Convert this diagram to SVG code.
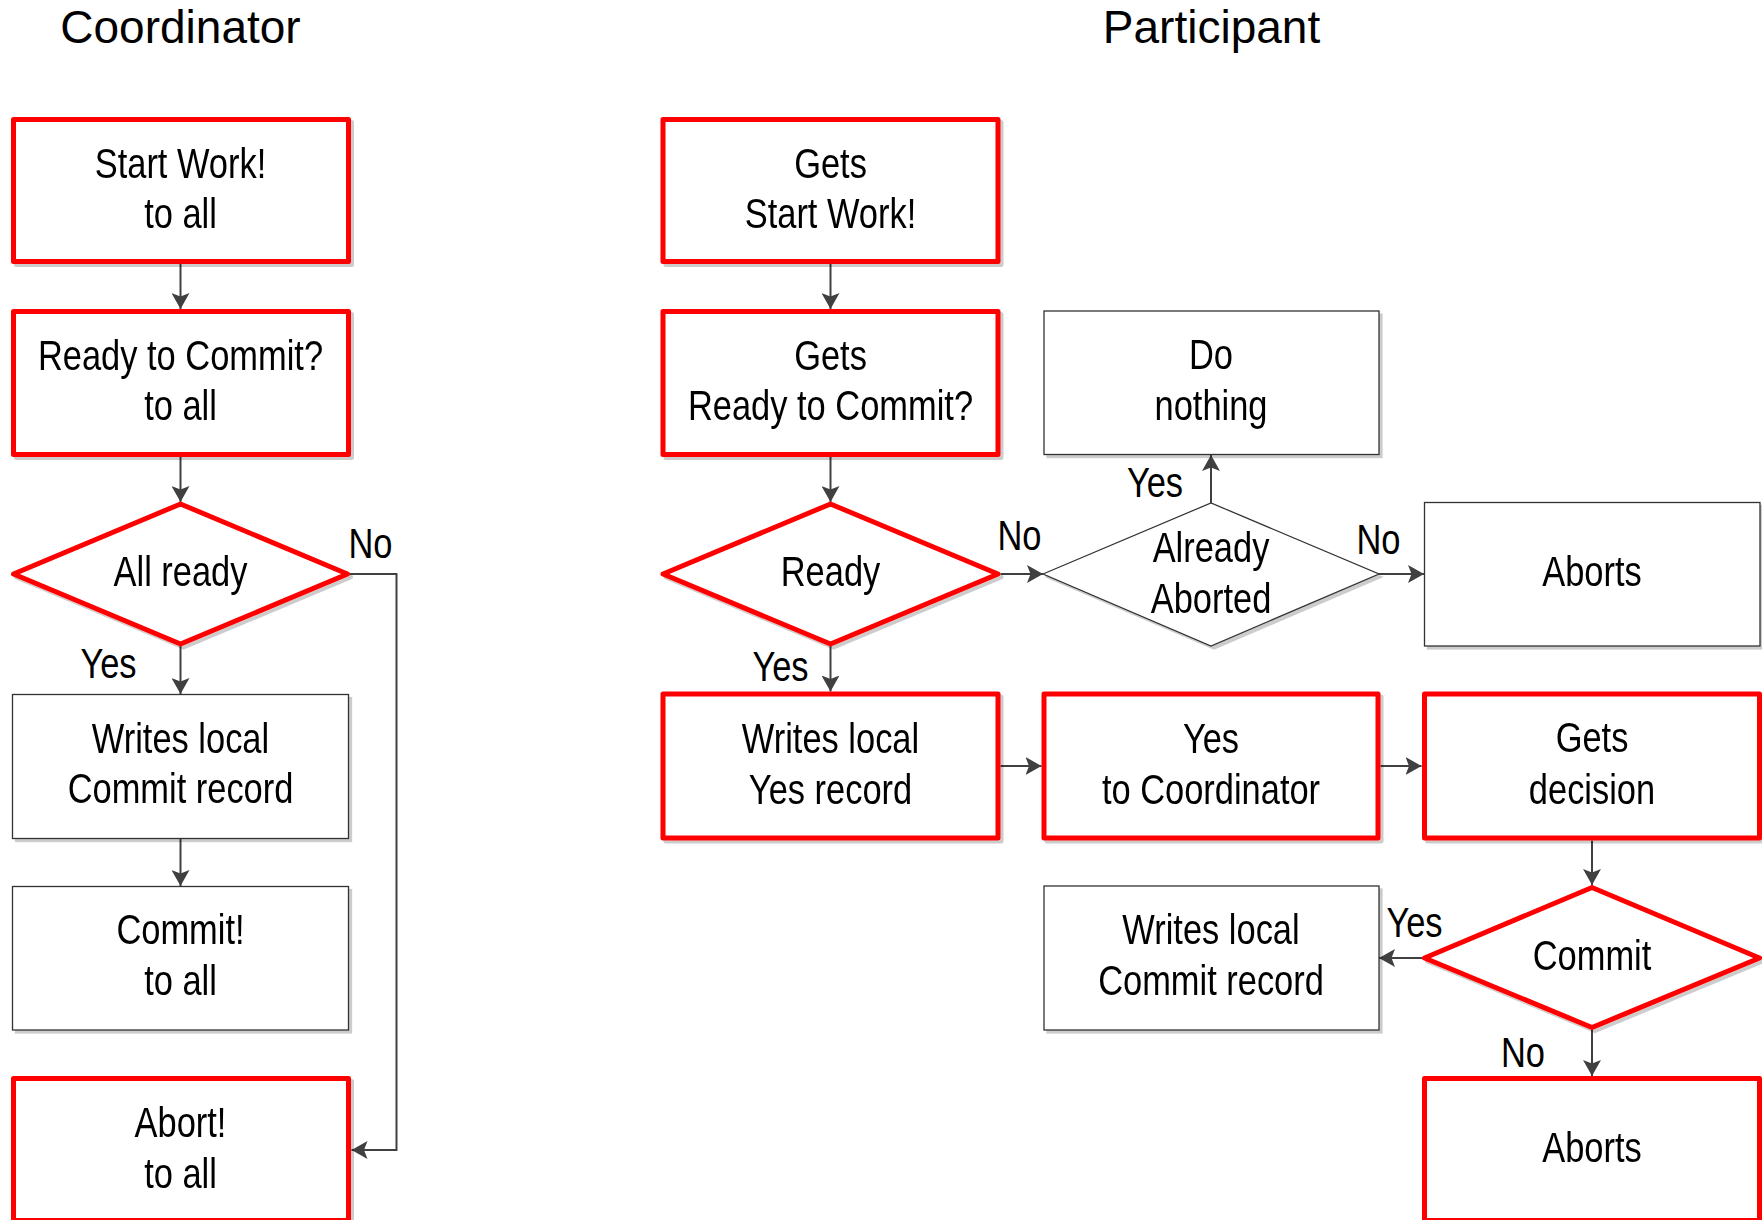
<svg xmlns="http://www.w3.org/2000/svg" width="1762" height="1220" viewBox="0 0 1762 1220">
<style>
  .bg { fill: #ffffff; }
  .red { fill: #ffffff; stroke: #ff0000; stroke-width: 5; stroke-linejoin: round; }
  .thin { fill: #ffffff; stroke: #333333; stroke-width: 1.3; }
  .t { font-family: "Liberation Sans", Arial, sans-serif; font-size: 42px; fill: #000000; text-anchor: middle; }
  .lbl { font-family: "Liberation Sans", Arial, sans-serif; font-size: 42px; fill: #000000; text-anchor: middle; }
  .title { font-family: "Liberation Sans", Arial, sans-serif; font-size: 46px; fill: #000000; text-anchor: middle; }
  .c { fill: none; stroke: #404040; stroke-width: 2; }
</style>
<defs>
  <filter id="sh" x="-5%" y="-5%" width="115%" height="115%">
    <feDropShadow dx="3" dy="3" stdDeviation="0.6" flood-color="#000000" flood-opacity="0.2"/>
  </filter>
  <marker id="ah" viewBox="0 0 16 18" refX="16" refY="9" markerWidth="16" markerHeight="18" markerUnits="userSpaceOnUse" orient="auto">
    <path d="M0,0 L16,9 L0,18 L3.5,9 Z" fill="#404040"/>
  </marker>
</defs>
<rect class="bg" x="0" y="0" width="1762" height="1220"/>

<g id="titles">
  <text class="title" x="180.5" y="43">Coordinator</text>
  <text class="title" x="1211.5" y="43">Participant</text>
</g>

<g id="connectors">
  <path class="c" marker-end="url(#ah)" d="M180.5,264 L180.5,309"/>
  <path class="c" marker-end="url(#ah)" d="M180.5,457 L180.5,502"/>
  <path class="c" marker-end="url(#ah)" d="M180.5,646 L180.5,694"/>
  <path class="c" marker-end="url(#ah)" d="M180.5,838.5 L180.5,886"/>
  <path class="c" marker-end="url(#ah)" d="M349.5,574 L396.5,574 L396.5,1150 L351.5,1150"/>

  <path class="c" marker-end="url(#ah)" d="M830.5,264 L830.5,309"/>
  <path class="c" marker-end="url(#ah)" d="M830.5,457 L830.5,502"/>
  <path class="c" marker-end="url(#ah)" d="M830.5,646 L830.5,691.5"/>
  <path class="c" marker-end="url(#ah)" d="M1000.5,574 L1043,574"/>
  <path class="c" marker-end="url(#ah)" d="M1211,503 L1211,455"/>
  <path class="c" marker-end="url(#ah)" d="M1379,574 L1424,574"/>
  <path class="c" marker-end="url(#ah)" d="M1000.5,766 L1041.5,766"/>
  <path class="c" marker-end="url(#ah)" d="M1380.5,766 L1421.5,766"/>
  <path class="c" marker-end="url(#ah)" d="M1592,840.5 L1592,885"/>
  <path class="c" marker-end="url(#ah)" d="M1422,958 L1379,958"/>
  <path class="c" marker-end="url(#ah)" d="M1592,1030 L1592,1076"/>

  <text class="lbl" transform="matrix(0.82 0 0 1 370.5 0)" x="0" y="558">No</text>
  <text class="lbl" transform="matrix(0.82 0 0 1 108.5 0)" x="0" y="678">Yes</text>
  <text class="lbl" transform="matrix(0.82 0 0 1 780.5 0)" x="0" y="681">Yes</text>
  <text class="lbl" transform="matrix(0.82 0 0 1 1019.5 0)" x="0" y="550">No</text>
  <text class="lbl" transform="matrix(0.82 0 0 1 1155 0)" x="0" y="497">Yes</text>
  <text class="lbl" transform="matrix(0.82 0 0 1 1378.5 0)" x="0" y="554">No</text>
  <text class="lbl" transform="matrix(0.82 0 0 1 1414.5 0)" x="0" y="937">Yes</text>
  <text class="lbl" transform="matrix(0.82 0 0 1 1523 0)" x="0" y="1067">No</text>
</g>

<g id="c-start" filter="url(#sh)">
  <rect class="red" x="13.5" y="119.5" width="335" height="142"/>
  <text class="t" transform="matrix(0.82 0 0 1 180.5 0)" x="0" y="178">Start Work!</text>
  <text class="t" transform="matrix(0.82 0 0 1 180.5 0)" x="0" y="228">to all</text>
</g>
<g id="c-ready-commit" filter="url(#sh)">
  <rect class="red" x="13.5" y="311.5" width="335" height="143"/>
  <text class="t" transform="matrix(0.82 0 0 1 180.5 0)" x="0" y="370">Ready to Commit?</text>
  <text class="t" transform="matrix(0.82 0 0 1 180.5 0)" x="0" y="420">to all</text>
</g>
<g id="c-all-ready" filter="url(#sh)">
  <polygon class="red" points="13.5,574 180.5,504 347.5,574 180.5,644"/>
  <text class="t" transform="matrix(0.82 0 0 1 180.5 0)" x="0" y="586.5">All ready</text>
</g>
<g id="c-writes-commit" filter="url(#sh)">
  <rect class="thin" x="12.5" y="694.5" width="336" height="144"/>
  <text class="t" transform="matrix(0.82 0 0 1 180.5 0)" x="0" y="753">Writes local</text>
  <text class="t" transform="matrix(0.82 0 0 1 180.5 0)" x="0" y="803">Commit record</text>
</g>
<g id="c-commit" filter="url(#sh)">
  <rect class="thin" x="12.5" y="886.5" width="336" height="143.5"/>
  <text class="t" transform="matrix(0.82 0 0 1 180.5 0)" x="0" y="944">Commit!</text>
  <text class="t" transform="matrix(0.82 0 0 1 180.5 0)" x="0" y="995">to all</text>
</g>
<g id="c-abort" filter="url(#sh)">
  <rect class="red" x="13.5" y="1078.5" width="335" height="142"/>
  <text class="t" transform="matrix(0.82 0 0 1 180.5 0)" x="0" y="1137">Abort!</text>
  <text class="t" transform="matrix(0.82 0 0 1 180.5 0)" x="0" y="1188">to all</text>
</g>

<g id="p-gets-start" filter="url(#sh)">
  <rect class="red" x="663" y="119.5" width="335" height="142"/>
  <text class="t" transform="matrix(0.82 0 0 1 830.5 0)" x="0" y="178">Gets</text>
  <text class="t" transform="matrix(0.82 0 0 1 830.5 0)" x="0" y="228">Start Work!</text>
</g>
<g id="p-gets-ready" filter="url(#sh)">
  <rect class="red" x="663" y="311.5" width="335" height="143"/>
  <text class="t" transform="matrix(0.82 0 0 1 830.5 0)" x="0" y="370">Gets</text>
  <text class="t" transform="matrix(0.82 0 0 1 830.5 0)" x="0" y="420">Ready to Commit?</text>
</g>
<g id="p-ready" filter="url(#sh)">
  <polygon class="red" points="663,574 830.5,504 998,574 830.5,644"/>
  <text class="t" transform="matrix(0.82 0 0 1 830.5 0)" x="0" y="586.5">Ready</text>
</g>
<g id="p-do-nothing" filter="url(#sh)">
  <rect class="thin" x="1044" y="311" width="335" height="143.5"/>
  <text class="t" transform="matrix(0.82 0 0 1 1211 0)" x="0" y="369">Do</text>
  <text class="t" transform="matrix(0.82 0 0 1 1211 0)" x="0" y="420">nothing</text>
</g>
<g id="p-already-aborted" filter="url(#sh)">
  <polygon class="thin" points="1043,574 1211,503 1379,574 1211,646"/>
  <text class="t" transform="matrix(0.82 0 0 1 1211 0)" x="0" y="562">Already</text>
  <text class="t" transform="matrix(0.82 0 0 1 1211 0)" x="0" y="613">Aborted</text>
</g>
<g id="p-aborts-1" filter="url(#sh)">
  <rect class="thin" x="1424.5" y="502.5" width="335.5" height="143.5"/>
  <text class="t" transform="matrix(0.82 0 0 1 1592 0)" x="0" y="586">Aborts</text>
</g>
<g id="p-writes-yes" filter="url(#sh)">
  <rect class="red" x="663" y="694" width="335" height="144"/>
  <text class="t" transform="matrix(0.82 0 0 1 830.5 0)" x="0" y="753">Writes local</text>
  <text class="t" transform="matrix(0.82 0 0 1 830.5 0)" x="0" y="804">Yes record</text>
</g>
<g id="p-yes-coord" filter="url(#sh)">
  <rect class="red" x="1044" y="694" width="334" height="144"/>
  <text class="t" transform="matrix(0.82 0 0 1 1211 0)" x="0" y="753">Yes</text>
  <text class="t" transform="matrix(0.82 0 0 1 1211 0)" x="0" y="804">to Coordinator</text>
</g>
<g id="p-gets-decision" filter="url(#sh)">
  <rect class="red" x="1424.5" y="694" width="335" height="144"/>
  <text class="t" transform="matrix(0.82 0 0 1 1592 0)" x="0" y="752.5">Gets</text>
  <text class="t" transform="matrix(0.82 0 0 1 1592 0)" x="0" y="804">decision</text>
</g>
<g id="p-commit" filter="url(#sh)">
  <polygon class="red" points="1424.5,958 1592,887.5 1759.5,958 1592,1027.5"/>
  <text class="t" transform="matrix(0.82 0 0 1 1592 0)" x="0" y="970">Commit</text>
</g>
<g id="p-writes-commit" filter="url(#sh)">
  <rect class="thin" x="1044" y="886" width="335" height="144"/>
  <text class="t" transform="matrix(0.82 0 0 1 1211 0)" x="0" y="944">Writes local</text>
  <text class="t" transform="matrix(0.82 0 0 1 1211 0)" x="0" y="995">Commit record</text>
</g>
<g id="p-aborts-2" filter="url(#sh)">
  <rect class="red" x="1424.5" y="1078.5" width="335" height="142"/>
  <text class="t" transform="matrix(0.82 0 0 1 1592 0)" x="0" y="1162">Aborts</text>
</g>
</svg>
